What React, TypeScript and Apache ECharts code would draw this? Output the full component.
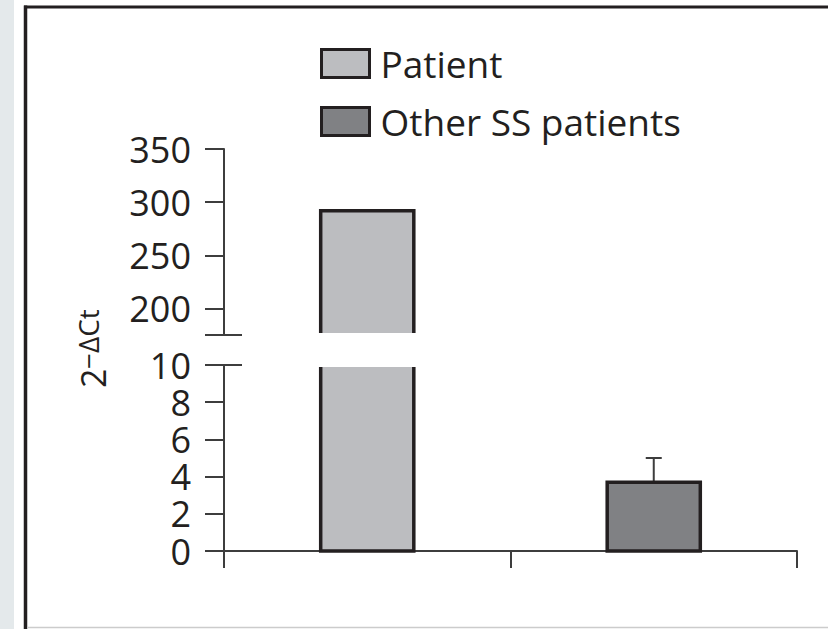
import React, { useEffect, useRef } from "react";
import * as echarts from "echarts";

const categories = ["Patient", "Other SS patients"];
const meanValues = [292, 3.7];
const errorValues = [0, 1.3];
const upperRange = [175, 350];
const lowerRange = [0, 10];
const upperTickLabels = [200, 250, 300, 350];
const lowerTickInterval = 2;
const fillColors = ["#bcbdc0", "#808184"];

const INK = "#231f20";
const AXIS = "#3d3d3d";
const FONT = "Open Sans";

function makeRenderer(range: number[], fill: string) {
  return (params: any, api: any) => {
    const cat = api.value(0);
    const v = api.value(1);
    const err = api.value(2);
    const lo = range[0];
    const hi = range[1];
    if (v <= lo) return null;
    const cutTop = v > hi;
    const cutBottom = lo > 0;
    const base = api.coord([cat, lo]);
    const top = api.coord([cat, Math.min(v, hi)]);
    const half = (api.size([1, 0])[0] * 0.325) / 2;
    const cx = base[0];
    const x0 = cx - half;
    const x1 = cx + half;
    const yb = base[1] - (cutBottom ? 2 : 0);
    const yt = top[1] + (cutTop ? 2 : 0);
    const children: any[] = [
      {
        type: "rect",
        shape: { x: x0, y: yt, width: x1 - x0, height: yb - yt },
        style: { fill },
      },
    ];
    if (err > 0 && v + err <= hi) {
      const e = api.coord([cat, v + err]);
      children.push({
        type: "line",
        shape: { x1: cx, y1: yt, x2: cx, y2: e[1] },
        style: { stroke: AXIS, lineWidth: 2 },
      });
      children.push({
        type: "line",
        shape: { x1: cx - 8, y1: e[1], x2: cx + 8, y2: e[1] },
        style: { stroke: AXIS, lineWidth: 2 },
      });
    }
    const stroke = { stroke: INK, lineWidth: 3.5, fill: null, lineJoin: "miter" };
    if (!cutTop && !cutBottom) {
      children.push({
        type: "rect",
        shape: { x: x0, y: yt, width: x1 - x0, height: yb - yt },
        style: stroke,
      });
    } else if (cutTop && !cutBottom) {
      children.push({
        type: "polyline",
        shape: { points: [[x0, yt], [x0, yb], [x1, yb], [x1, yt]] },
        style: stroke,
      });
    } else if (!cutTop && cutBottom) {
      children.push({
        type: "polyline",
        shape: { points: [[x0, yb], [x0, yt], [x1, yt], [x1, yb]] },
        style: stroke,
      });
    } else {
      children.push({ type: "line", shape: { x1: x0, y1: yt, x2: x0, y2: yb }, style: stroke });
      children.push({ type: "line", shape: { x1: x1, y1: yt, x2: x1, y2: yb }, style: stroke });
    }
    return { type: "group", children };
  };
}

export default function App() {
  const ref = useRef<HTMLDivElement>(null);
  useEffect(() => {
    document.body.style.margin = "0";
    const chart = echarts.init(ref.current!, null, { renderer: "svg" });
    const ranges = [upperRange, lowerRange];
    const series: any[] = [];
    categories.forEach((name, i) => {
      ranges.forEach((range, s) => {
        series.push({
          type: "custom",
          name,
          xAxisIndex: s,
          yAxisIndex: s * 2,
          renderItem: makeRenderer(range, fillColors[i]),
          encode: { x: 0, y: 1 },
          itemStyle: { color: fillColors[i] },
          data: [[i, meanValues[i], errorValues[i]]],
        });
      });
    });
    const lowerTicks: number[] = [];
    for (let t = lowerRange[0]; t <= lowerRange[1]; t += lowerTickInterval) lowerTicks.push(t);

    const mainY = (grid: number, range: number[], ticks: number[], labels: number[]) => ({
      type: "value",
      gridIndex: grid,
      min: range[0],
      max: range[1],
      position: "left",
      splitLine: { show: false },
      axisLine: { show: true, lineStyle: { color: AXIS, width: 2 } },
      axisTick: { show: true, length: 19, inside: false, customValues: ticks, lineStyle: { color: AXIS, width: 2 } },
      axisLabel: { show: true, customValues: labels, margin: 33, color: INK, fontSize: 36, fontFamily: FONT, lineHeight: 34 },
    });
    const breakY = (grid: number, range: number[], at: number) => ({
      type: "value",
      gridIndex: grid,
      min: range[0],
      max: range[1],
      position: "left",
      splitLine: { show: false },
      axisLine: { show: false },
      axisTick: { show: true, length: 18, inside: true, customValues: [at], lineStyle: { color: AXIS, width: 2 } },
      axisLabel: { show: false },
    });

    chart.setOption({
      animation: false,
      backgroundColor: "#ffffff",
      grid: [
        { left: 224, top: 149, width: 573, height: 186 },
        { left: 224, top: 365, width: 573, height: 186 },
      ],
      xAxis: [
        { type: "category", gridIndex: 0, data: categories, show: false },
        {
          type: "category",
          gridIndex: 1,
          data: categories,
          boundaryGap: true,
          axisLine: { show: true, lineStyle: { color: AXIS, width: 2 } },
          axisTick: { show: true, length: 17, lineStyle: { color: AXIS, width: 2 } },
          axisLabel: { show: false },
          splitLine: { show: false },
        },
      ],
      yAxis: [
        mainY(0, upperRange, [upperRange[0], ...upperTickLabels], upperTickLabels),
        breakY(0, upperRange, upperRange[0]),
        mainY(1, lowerRange, lowerTicks, lowerTicks),
        breakY(1, lowerRange, lowerRange[1]),
      ],
      legend: {
        orient: "vertical",
        left: 320,
        top: 45,
        padding: 0,
        itemGap: 21,
        itemWidth: 48,
        itemHeight: 28,
        icon: "rect",
        selectedMode: false,
        textStyle: { fontSize: 37, fontFamily: FONT, color: INK, padding: [0, 0, 0, 6] },
        data: categories.map((name, i) => ({
          name,
          itemStyle: { color: fillColors[i], borderColor: INK, borderWidth: 3 },
        })),
      },
      graphic: [
        { type: "rect", shape: { x: 0, y: 0, width: 14, height: 629 }, style: { fill: "#e4e9eb" }, silent: true },
        { type: "line", shape: { x1: 25.5, y1: 5.5, x2: 25.5, y2: 629 }, style: { stroke: INK, lineWidth: 3.5 }, silent: true },
        { type: "line", shape: { x1: 24, y1: 7, x2: 828, y2: 7 }, style: { stroke: INK, lineWidth: 3 }, silent: true },
        { type: "line", shape: { x1: 27, y1: 627.5, x2: 828, y2: 627.5 }, style: { stroke: "#cccccc", lineWidth: 1.5 }, silent: true },
        {
          type: "group",
          x: 93,
          y: 388,
          rotation: Math.PI / 2,
          children: [
            {
              type: "text",
              x: 0,
              y: 0,
              style: { text: "2", fontSize: 34, fontFamily: FONT, fill: INK, align: "left", verticalAlign: "middle" },
            },
            {
              type: "text",
              x: 19,
              y: -5,
              style: { text: "−ΔCt", fontSize: 28, fontFamily: FONT, fill: INK, align: "left", verticalAlign: "middle" },
            },
          ],
        },
      ],
      series,
    });
    return () => chart.dispose();
  }, []);
  return <div ref={ref} style={{ position: "absolute", left: 0, top: 0, width: 828, height: 629 }} />;
}
